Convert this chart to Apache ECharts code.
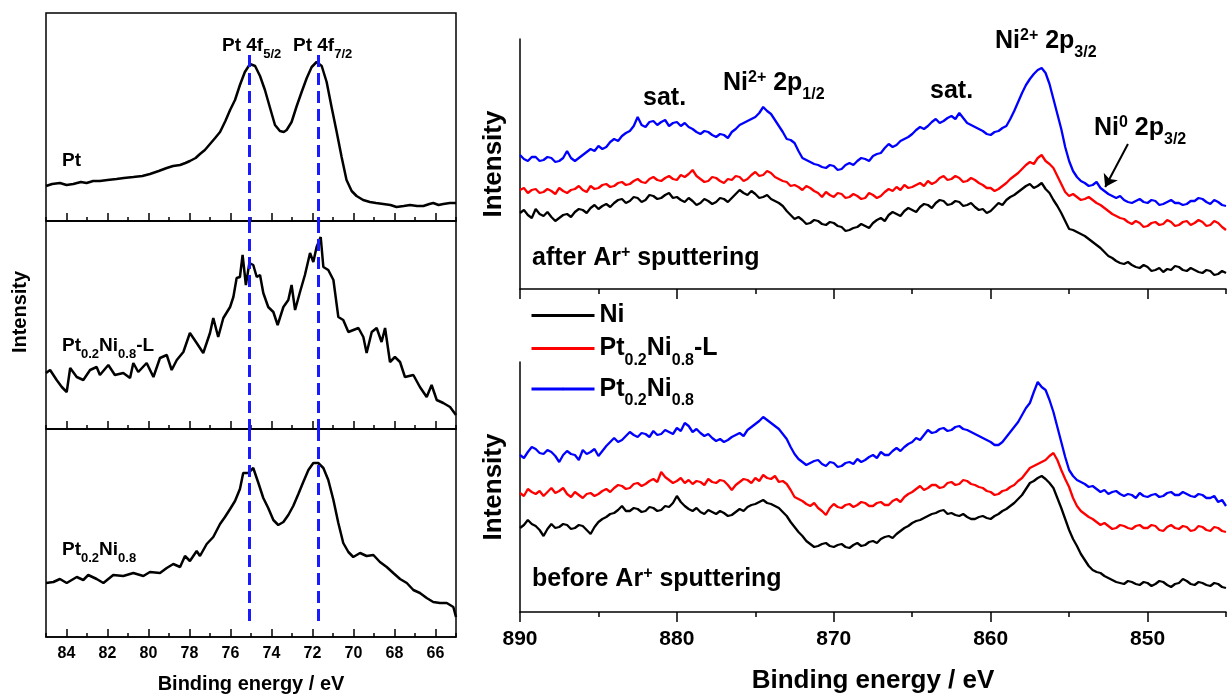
<!DOCTYPE html>
<html>
<head>
<meta charset="utf-8">
<script src="https://cdn.jsdelivr.net/npm/echarts@6.0.0/dist/echarts.min.js"></script>
<style>
  html, body { margin: 0; padding: 0; background: #fff; }
  #main { width: 1231px; height: 695px; }
</style>
</head>
<body>
<div id="main"></div>
<script>
const FONT = '"Liberation Sans", Arial, sans-serif';

// ---- Pt 4f, left panels (binding energy, intensity) ----
const ptE = [85, 84.7, 84.32, 84.0, 83.67, 83.3, 83.02, 82.7, 82.37, 82.0,
  81.56, 81.2, 80.74, 80.3, 79.93, 79.5, 79.11, 78.8, 78.46, 78.2,
  77.98, 77.7, 77.49, 77.25, 77.0, 76.75, 76.51, 76.25, 76.02, 75.78,
  75.54, 75.30, 75.05, 74.8, 74.56, 74.32, 74.07, 73.83, 73.59, 73.4,
  73.26, 73.02, 72.77, 72.53, 72.28, 72.04, 71.80, 71.55, 71.31, 71.07,
  70.82, 70.58, 70.34, 70.09, 69.85, 69.53, 69.20, 68.9, 68.55, 68.2,
  67.90, 67.55, 67.24, 66.9, 66.59, 66.3, 66.11, 65.85, 65.62, 65.3, 65.0];
const ptV = [35, 37, 38, 36, 37, 39, 38, 40, 40, 41,
  42, 43, 44, 45, 47, 50, 53, 55, 56, 58,
  60, 63, 67, 71, 77, 83, 89, 100, 111, 121,
  136, 149, 157, 155, 145, 131, 113, 96, 90, 89,
  91, 99, 115, 129, 143, 154, 159, 155, 139, 114,
  89, 64, 41, 30, 25, 21, 19, 18, 17, 16,
  14, 15, 16, 15, 15, 17, 18, 16, 17, 18, 18];

const ptNiLE = [85, 84.80, 84.48, 84.23, 83.99, 83.82, 83.50, 83.18, 82.85, 82.53,
  82.37, 81.96, 81.64, 81.23, 80.90, 80.74, 80.50, 80.09, 79.76, 79.44,
  79.11, 78.87, 78.62, 78.30, 77.98, 77.65, 77.33, 77.00, 76.84, 76.60,
  76.35, 76.02, 75.86, 75.70, 75.54, 75.41, 75.25, 75.08, 74.89, 74.72,
  74.56, 74.40, 74.16, 73.91, 73.70, 73.42, 73.18, 73.02, 72.85, 72.61,
  72.37, 72.12, 71.96, 71.80, 71.60, 71.47, 71.23, 70.98, 70.74, 70.50,
  70.25, 69.76, 69.52, 69.36, 69.11, 68.87, 68.63, 68.46, 68.22, 67.98,
  67.73, 67.49, 67.08, 66.76, 66.43, 66.19, 65.94, 65.62, 65.29, 65.0];
const ptNiLV = [56, 59, 49, 42, 37, 61, 52, 49, 59, 62,
  54, 64, 54, 56, 51, 66, 57, 66, 52, 71,
  74, 59, 69, 77, 96, 86, 76, 96, 111, 92,
  111, 122, 132, 151, 152, 174, 144, 166, 164, 152,
  154, 136, 122, 117, 104, 122, 129, 144, 119, 137,
  154, 176, 167, 182, 192, 162, 159, 149, 112, 109,
  97, 101, 92, 76, 97, 101, 87, 101, 67, 72,
  67, 52, 54, 42, 32, 44, 29, 26, 22, 14];

const ptNiE = [85, 84.64, 84.32, 83.99, 83.50, 83.18, 82.94, 82.53, 82.20, 81.72,
  81.23, 80.74, 80.25, 79.93, 79.44, 79.11, 78.79, 78.46, 78.22, 77.98,
  77.65, 77.49, 77.16, 76.84, 76.51, 76.27, 76.02, 75.78, 75.54, 75.38,
  75.13, 74.89, 74.64, 74.40, 74.16, 73.91, 73.67, 73.42, 73.18, 72.94,
  72.69, 72.45, 72.20, 71.96, 71.72, 71.47, 71.23, 70.98, 70.74, 70.50,
  70.25, 70.01, 69.68, 69.36, 69.03, 68.71, 68.38, 68.06, 67.73, 67.40,
  67.08, 66.76, 66.43, 66.11, 65.78, 65.45, 65.13, 65.0];
const ptNiV = [54, 55, 58, 54, 60, 57, 62, 58, 54, 62,
  61, 64, 61, 65, 64, 69, 73, 70, 81, 76,
  86, 81, 93, 100, 113, 120, 128, 136, 148, 164,
  164, 169, 154, 139, 129, 117, 112, 115, 122, 131,
  143, 155, 167, 174, 174, 169, 157, 137, 114, 94,
  85, 80, 84, 81, 82, 75, 70, 64, 58, 54,
  47, 44, 39, 35, 34, 34, 30, 20];

const peakLines = [75.1, 71.7];
const leftMajor = [66, 68, 70, 72, 74, 76, 78, 80, 82, 84];
const leftMinor = [65, 67, 69, 71, 73, 75, 77, 79, 81, 83, 85];

// ---- Ni 2p, right panels: 890 -> 845 eV, one value every 0.25 eV ----
const niStart = 890;
const niStep = 0.25;

const afterNi = [76,79, 74,71, 80,75, 73,77, 72,68, 71,74, 75,72, 77,80, 79,76, 81,84,
  80,83, 85,82, 86,89, 90,86, 88,92, 91,87, 89,94, 93,90, 91,94, 96,91,
  92,89, 87,91, 88,84, 86,90, 88,85, 87,91, 90,87, 91,95, 99,96, 94,98,
  95,91, 92,94, 90,88, 86,83, 78,74, 70,72, 69,65, 66,69, 68,65, 64,67,
  66,63, 62,58, 59,61, 62,65, 63,61, 66,69, 71,68, 74,77, 75,73, 78,81,
  79,77, 82,85, 84,81, 86,89, 88,84, 85,88, 87,83, 84,86, 82,79, 80,76,
  78,82, 86,84, 89,92, 94,97, 100,103, 105,101, 103,106, 100,96, 89,83, 76,68,
  60,59, 57,55, 53,50, 47,44, 41,37, 33,31, 28,26, 25,27, 24,22, 21,24,
  22,18, 19,21, 17,20, 19,23, 22,19, 18,21, 19,17, 16,19, 18,14, 15,18, 16];
const afterPtNiL = [99,101, 96,99, 100,96, 97,100, 98,95, 101,98, 96,99, 100,103, 99,97, 103,100,
  101,104, 105,102, 103,106, 107,104, 105,108, 110,107, 106,110, 112,109, 108,111, 113,110,
  109,114, 112,115, 119,113, 110,107, 108,112, 111,108, 106,110, 109,113, 112,108, 110,114,
  117,113, 114,118, 116,112, 110,108, 107,103, 104,102, 99,103, 101,98, 96,92, 97,94,
  92,96, 95,91, 92,95, 93,90, 91,96, 94,91, 93,97, 100,98, 102,99, 104,101,
  102,104, 106,103, 108,105, 107,111, 113,109, 110,113, 111,107, 108,111, 109,106, 104,101,
  101,98, 100,103, 106,110, 113,116, 120,124, 127,125, 131,134, 128,125, 121,113, 105,97,
  93,95, 92,89, 90,92, 89,86, 84,81, 78,75, 73,71, 70,67, 65,68, 66,62,
  63,66, 67,64, 65,69, 67,63, 64,67, 68,64, 66,69, 67,63, 64,68, 66,62, 59];
const afterPtNi = [134,130, 128,132, 132,128, 129,132, 131,127, 128,131, 138,131, 128,131, 134,137, 140,138,
  143,140, 142,147, 150,148, 153,156, 158,163, 172,164, 162,167, 168,164, 167,169, 163,166,
  167,163, 166,162, 160,157, 155,158, 157,154, 152,155, 154,151, 157,160, 164,166, 168,170,
  172,176, 182,178, 175,169, 163,157, 150,149, 146,138, 131,129, 127,125, 124,122, 121,124,
  123,119, 120,124, 126,124, 128,131, 130,128, 133,135, 136,141, 145,142, 144,148, 150,152,
  155,159, 162,160, 163,167, 170,166, 168,171, 173,170, 176,171, 166,164, 162,160, 158,155,
  154,157, 158,161, 163,170, 178,187, 196,204, 210,215, 219,221, 216,205, 190,175, 160,142,
  128,118, 112,108, 106,103, 104,107, 101,98, 95,93, 91,93, 89,87, 86,88, 90,87,
  86,89, 88,84, 85,87, 89,86, 86,84, 85,88, 88,91, 90,87, 85,89, 87,84, 83];

const beforeNi = [84,87, 92,88, 86,82, 76,83, 88,84, 85,88, 87,83, 84,87, 86,82, 78,85,
  90,93, 95,98, 99,102, 106,101, 101,104, 103,100, 101,105, 104,101, 102,106, 105,109,
  116,110, 106,103, 101,104, 100,98, 102,100, 98,101, 99,96, 97,100, 103,101, 105,107,
  108,110, 112,109, 108,106, 104,100, 96,90, 85,80, 76,71, 68,65, 66,68, 69,66,
  65,67, 68,65, 64,67, 69,66, 67,70, 71,69, 73,75, 76,74, 78,81, 84,86,
  89,91, 92,94, 96,98, 99,101, 102,98, 99,97, 96,98, 95,93, 93,95, 96,94,
  93,96, 98,101, 103,106, 109,113, 117,123, 129,131, 134,136, 133,129, 124,114, 104,93,
  82,73, 66,58, 52,46, 42,40, 39,36, 34,32, 30,29, 28,31, 30,28, 27,30,
  29,26, 28,31, 30,27, 25,28, 29,33, 31,28, 27,30, 29,27, 26,29, 28,25, 24];
const beforePtNiL = [119,116, 123,120, 118,121, 116,120, 124,119, 121,124, 118,115, 120,117, 114,118, 119,116,
  118,121, 123,120, 124,127, 126,123, 124,128, 129,126, 128,131, 133,130, 140,135, 132,129,
  131,134, 129,132, 128,131, 130,127, 133,130, 129,132, 131,127, 122,127, 130,133, 132,129,
  134,131, 137,134, 133,136, 130,131, 128,122, 115,113, 111,108, 106,109, 104,101, 97,104,
  108,105, 104,107, 108,105, 107,110, 109,106, 106,109, 110,107, 107,111, 113,110, 115,118,
  120,123, 126,122, 124,127, 127,124, 125,129, 130,127, 128,132, 131,128, 127,125, 124,121,
  120,117, 118,121, 122,125, 127,131, 134,139, 144,146, 148,150, 152,156, 159,152, 142,133,
  125,114, 106,101, 98,95, 93,90, 87,89, 86,83, 84,87, 86,84, 83,86, 87,84,
  84,87, 86,82, 81,85, 87,84, 83,86, 85,81, 82,86, 85,82, 81,85, 84,81, 80];
const beforePtNi = [157,154, 160,165, 163,159, 158,162, 160,156, 150,157, 161,158, 157,152, 162,158, 160,163,
  156,161, 166,170, 174,170, 172,176, 180,177, 175,179, 178,175, 181,177, 178,182, 180,178,
  184,181, 189,186, 180,183, 179,176, 178,174, 171,173, 170,172, 175,177, 179,176, 182,185,
  188,191, 195,192, 189,186, 183,178, 173,165, 158,153, 150,147, 149,151, 152,148, 146,150,
  149,145, 146,149, 150,148, 153,150, 152,155, 157,154, 160,157, 157,161, 164,161, 165,168,
  170,174, 172,177, 182,179, 180,183, 184,181, 182,185, 186,183, 182,180, 178,176, 174,172,
  170,167, 167,170, 175,180, 185,190, 197,204, 209,220, 230,225, 222,212, 200,185, 170,155,
  142,136, 132,130, 128,125, 126,123, 120,122, 118,120, 121,118, 116,118, 117,114, 119,116,
  115,117, 118,115, 116,119, 120,117, 117,120, 118,116, 115,118, 117,114, 114,116, 110,112, 106];

const rightMajor = [850, 860, 870, 880, 890];
const rightMinor = [845, 855, 865, 875, 885];
const names = ['Ni', 'Pt0.2Ni0.8-L', 'Pt0.2Ni0.8'];
const colors = ['#000000', '#ff0000', '#0000ff'];
// arrow pointing at the Ni0 shoulder: [energy, intensity] from -> to
const arrowFrom = [851.25, 145];
const arrowTo = [852.7, 102];

// ---- text styles ----
function richSet(size, subSize, lh, subH, supH) {
  const base = { fontWeight: 'bold', fontFamily: FONT, color: '#000', fill: '#000' };
  return {
    b: Object.assign({ fontSize: size, lineHeight: lh, verticalAlign: 'middle' }, base),
    sub: Object.assign({ fontSize: subSize, height: subH, lineHeight: subH, verticalAlign: 'bottom' }, base),
    sup: Object.assign({ fontSize: subSize, height: supH, lineHeight: supH, verticalAlign: 'top' }, base)
  };
}
const RICH_R = richSet(25, 16, 30, 6, 20);
const RICH_L = richSet(19, 13, 23, 6, 16);

const legendText = {
  'Ni': '{b|Ni}',
  'Pt0.2Ni0.8-L': '{b|Pt}{sub|0.2}{b|Ni}{sub|0.8}{b|-L}',
  'Pt0.2Ni0.8': '{b|Pt}{sub|0.2}{b|Ni}{sub|0.8}'
};

function label(x, y, text, rich) {
  return { type: 'text', x: x, y: y, z: 100, silent: true,
    style: { text: text, rich: rich, align: 'left', verticalAlign: 'middle' } };
}

const axisLineStyle = { color: '#000', width: 1.5 };

// ---- grids ----
const grids = [
  { left: 46, top: 13, width: 410, height: 208 },
  { left: 46, top: 221, width: 410, height: 208 },
  { left: 46, top: 429, width: 410, height: 208 },
  { left: 520, top: 39, width: 706, height: 250 },
  { left: 520, top: 362, width: 706, height: 250 }
].map((g, i) => Object.assign(g, {
  show: i < 3, borderColor: '#000', borderWidth: 1.5, outerBoundsMode: 'none'
}));

function leftX(gi, minor) {
  const vals = minor ? leftMinor : leftMajor;
  const labels = gi === 2 && !minor;
  return {
    type: 'value', gridIndex: gi, position: 'bottom', min: 65, max: 85, inverse: true,
    axisLine: { show: !minor, onZero: false, lineStyle: axisLineStyle },
    axisTick: { show: true, inside: true, length: minor ? 4 : 8, customValues: vals, lineStyle: axisLineStyle },
    axisLabel: { show: labels, customValues: vals, margin: 9, fontSize: 16, fontWeight: 'bold', color: '#000', fontFamily: FONT },
    splitLine: { show: false },
    name: labels ? 'Binding energy / eV' : '', nameLocation: 'middle', nameGap: 37, nameMoveOverlap: false,
    nameTextStyle: { fontSize: 20, fontWeight: 'bold', color: '#000', fontFamily: FONT }
  };
}
function rightX(gi, minor) {
  const vals = minor ? rightMinor : rightMajor;
  const labels = gi === 4 && !minor;
  return {
    type: 'value', gridIndex: gi, position: 'bottom', min: 845, max: 890, inverse: true,
    axisLine: { show: !minor, onZero: false, lineStyle: axisLineStyle },
    axisTick: { show: true, inside: false, length: minor ? 5 : 10, customValues: vals, lineStyle: axisLineStyle },
    axisLabel: { show: labels, customValues: vals, margin: 17, fontSize: 21, fontWeight: 'bold', color: '#000', fontFamily: FONT },
    splitLine: { show: false },
    name: labels ? 'Binding energy / eV' : '', nameLocation: 'middle', nameGap: 56, nameMoveOverlap: false,
    nameTextStyle: { fontSize: 26, fontWeight: 'bold', color: '#000', fontFamily: FONT }
  };
}

const xAxes = [leftX(0), leftX(1), leftX(2), rightX(3), rightX(4),
  leftX(0, true), leftX(1, true), leftX(2, true), rightX(3, true), rightX(4, true)];

const yAxes = [0, 1, 2].map(gi => ({ type: 'value', gridIndex: gi, min: 0, max: 208, show: false }))
  .concat([3, 4].map(gi => ({
    type: 'value', gridIndex: gi, min: 0, max: 250,
    axisLine: { show: true, onZero: false, lineStyle: axisLineStyle },
    axisTick: { show: false }, axisLabel: { show: false }, splitLine: { show: false },
    name: 'Intensity', nameLocation: 'middle', nameRotate: 90, nameGap: 13, nameMoveOverlap: false,
    nameTextStyle: { fontSize: 26, fontWeight: 'bold', color: '#000', fontFamily: FONT }
  })));

// ---- series ----
function pairs(xs, ys) { return xs.map((x, i) => [x, ys[i]]); }

function peakMarks(yTop, yBottom) {
  return {
    silent: true, symbol: ['none', 'none'], label: { show: false },
    lineStyle: { color: '#1a1aff', width: 3, type: [12, 6] },
    data: peakLines.map(e => [{ coord: [e, yTop] }, { coord: [e, yBottom] }])
  };
}

function ptSeries(xs, ys, gi, marks) {
  return {
    type: 'line', xAxisIndex: gi, yAxisIndex: gi, data: pairs(xs, ys),
    symbol: 'none', silent: true, animation: false,
    lineStyle: { color: '#000', width: 2.5 }, itemStyle: { color: '#000' },
    markLine: marks
  };
}

function niSeries(values, k, gi) {
  return {
    name: names[k], type: 'line', xAxisIndex: gi, yAxisIndex: gi,
    data: values.map((v, i) => [niStart - i * niStep, v]),
    symbol: 'none', silent: true, animation: false,
    lineStyle: { color: colors[k], width: 2.3 }, itemStyle: { color: colors[k] }
  };
}

const series = [
  ptSeries(ptE, ptV, 0, peakMarks(166, 0)),
  ptSeries(ptNiLE, ptNiLV, 1, peakMarks(208, 0)),
  ptSeries(ptNiE, ptNiV, 2, peakMarks(208, 14)),
  niSeries(afterNi, 0, 3),
  niSeries(afterPtNiL, 1, 3),
  niSeries(afterPtNi, 2, 3),
  niSeries(beforeNi, 0, 4),
  niSeries(beforePtNiL, 1, 4),
  niSeries(beforePtNi, 2, 4)
];
series[5].markLine = {
  silent: true, symbol: ['none', 'arrow'], symbolSize: 12, label: { show: false },
  lineStyle: { color: '#000', width: 2, type: 'solid' },
  data: [[{ coord: arrowFrom }, { coord: arrowTo }]]
};

const option = {
  animation: false,
  backgroundColor: '#fff',
  textStyle: { fontFamily: FONT },
  grid: grids,
  xAxis: xAxes,
  yAxis: yAxes,
  legend: {
    data: names, orient: 'vertical', left: 525, top: 298,
    itemWidth: 63, itemHeight: 3, itemGap: 8, selectedMode: false,
    lineStyle: { width: 3 },
    formatter: n => legendText[n],
    textStyle: { rich: RICH_R, fontSize: 25, fontWeight: 'bold', color: '#000', fontFamily: FONT }
  },
  graphic: [
    { type: 'text', x: 20, y: 312, rotation: Math.PI / 2, silent: true,
      style: { text: 'Intensity', font: 'bold 20px ' + FONT, fill: '#000', align: 'center', verticalAlign: 'middle' } },
    label(222, 46, '{b|Pt 4f}{sub|5/2}', RICH_L),
    label(293, 46, '{b|Pt 4f}{sub|7/2}', RICH_L),
    label(62, 161, '{b|Pt}', RICH_L),
    label(62, 346, '{b|Pt}{sub|0.2}{b|Ni}{sub|0.8}{b|-L}', RICH_L),
    label(62, 550, '{b|Pt}{sub|0.2}{b|Ni}{sub|0.8}', RICH_L),
    label(643, 98, '{b|sat.}', RICH_R),
    label(723, 83, '{b|Ni}{sup|2+}{b| 2p}{sub|1/2}', RICH_R),
    label(930, 91, '{b|sat.}', RICH_R),
    label(995, 41, '{b|Ni}{sup|2+}{b| 2p}{sub|3/2}', RICH_R),
    label(1094, 128, '{b|Ni}{sup|0}{b| 2p}{sub|3/2}', RICH_R),
    label(532, 258, '{b|after Ar}{sup|+}{b| sputtering}', RICH_R),
    label(532, 579, '{b|before Ar}{sup|+}{b| sputtering}', RICH_R)
  ],
  series: series
};

const chart = echarts.init(document.getElementById('main'), null, { renderer: 'canvas' });
chart.setOption(option);
</script>
</body>
</html>
